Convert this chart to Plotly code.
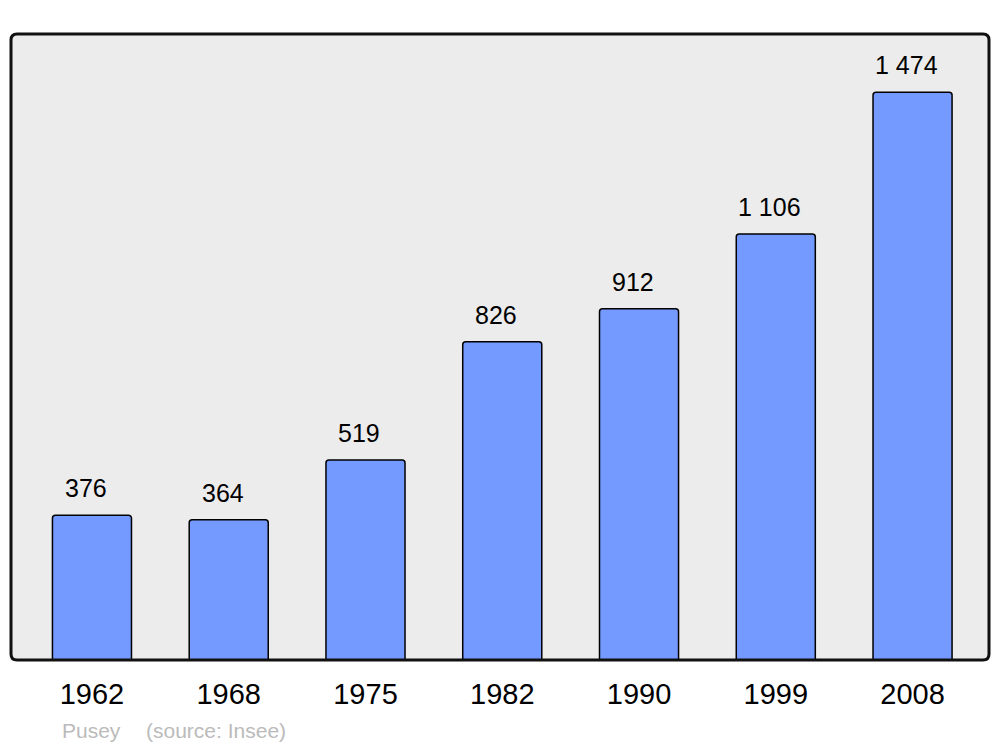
import plotly.graph_objects as go

years = ["1962", "1968", "1975", "1982", "1990", "1999", "2008"]
population = [376, 364, 519, 826, 912, 1106, 1474]
value_labels = ["376", "364", "519", "826", "912", "1 106", "1 474"]
commune = "Pusey"
source = "(source: Insee)"

# page body has an 8px margin; compensate so plot area sits at x 11-989, y 34-660
W, H = 992, 739
L, R, T, B = 3, 11, 26, 87
pw, ph = W - L - R, H - T - B

xpos = list(range(len(years)))

fig = go.Figure()
fig.add_trace(go.Bar(
    x=xpos, y=population, width=0.578,
    marker=dict(color="#7499ff", line=dict(color="black", width=1.5), cornerradius=3),
    hoverinfo="skip",
))

for i, (v, lab) in enumerate(zip(population, value_labels)):
    fig.add_annotation(x=i, y=v, text=lab, showarrow=False, yanchor="bottom",
                       xanchor="center", yshift=11, xshift=-6,
                       font=dict(size=25, color="black", family="Liberation Sans, Arial"))

# rounded border
r = 6
rx, ry = r / pw, r / ph
path = (f"M {rx},0 L {1-rx},0 Q 1,0 1,{ry} L 1,{1-ry} Q 1,1 {1-rx},1 "
        f"L {rx},1 Q 0,1 0,{1-ry} L 0,{ry} Q 0,0 {rx},0 Z")
fig.add_shape(type="path", path=path, xref="paper", yref="paper",
              fillcolor="#ececec", line=dict(width=0), layer="below")
fig.add_shape(type="path", path=path, xref="paper", yref="paper",
              fillcolor="rgba(0,0,0,0)", line=dict(color="#111111", width=3), layer="above")

cap_y = (652 - 722) / ph
fig.add_annotation(x=(51 - 2) / pw, y=cap_y, xref="paper", yref="paper",
                   text=commune, showarrow=False, xanchor="left", yanchor="middle",
                   font=dict(size=21, color="#bbbbbb", family="Liberation Sans, Arial"))
fig.add_annotation(x=(135 - 2) / pw, y=cap_y, xref="paper", yref="paper",
                   text=source, showarrow=False, xanchor="left", yanchor="middle",
                   font=dict(size=21, color="#bbbbbb", family="Liberation Sans, Arial"))

fig.update_layout(
    width=W, height=H,
    margin=dict(l=L, r=R, t=T, b=B, pad=0),
    paper_bgcolor="white", plot_bgcolor="rgba(0,0,0,0)",
    showlegend=False,
    font=dict(family="Liberation Sans, Arial", color="black"),
    xaxis=dict(range=[-0.592, 6.559], tickmode="array", tickvals=xpos, ticktext=years,
               showgrid=False, zeroline=False, showline=False,
               ticks="outside", ticklen=8, tickcolor="rgba(0,0,0,0)",
               tickfont=dict(size=29, color="black")),
    yaxis=dict(range=[0, 1625], visible=False, showgrid=False, zeroline=False),
)

fig.write_html("out.html")
